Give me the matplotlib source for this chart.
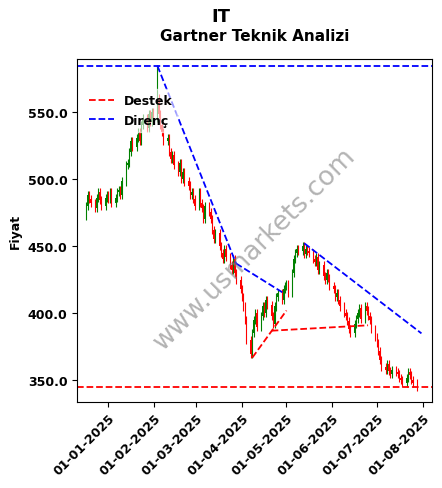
import matplotlib
matplotlib.use("Agg")
import matplotlib.pyplot as plt
import matplotlib.dates as mdates
import numpy as np
import pandas as pd

closes = [480, 488, 485, 482, 478, 486, 490, 484, 480, 486, 488,
          485, 490, 482, 486, 490, 492, 488, 498, 510, 512, 520, 528, 524, 530, 535, 528, 540, 545, 538, 548, 542, 550, 545,
          560, 548, 540, 535, 528, 530, 520, 515, 518, 510, 505, 512, 500, 505, 498, 495, 488, 490, 485, 480,
          490, 482, 478, 470, 480, 475, 470, 462, 455, 460, 450, 445, 440, 448, 442, 436, 432, 440, 430, 425, 418,
          412, 405, 395, 380, 370, 385, 395, 400, 390, 398, 405, 400, 410, 406, 398, 392, 405, 412, 415, 410, 418, 420,
          422, 415, 430, 440, 445, 448, 446, 450, 444, 448, 446, 445, 440, 438, 442, 432, 436, 428, 425, 430, 426, 420,
          418, 412, 415, 410, 405, 400, 398, 394, 388, 385, 392, 396, 400, 404, 396, 405, 402, 398, 395, 388, 382,
          378, 372, 365, 360, 358, 362, 357, 355, 358, 356, 355, 352, 350, 348, 352, 356, 354, 350, 348, 345]
dates = pd.bdate_range("2024-12-17", periods=len(closes))
opens = [closes[0] - 8] + closes[:-1]
peak_high = 585

resist_level = 584
support_level = 345
resist_lines = [(("2025-02-03", 584), ("2025-03-28", 437)),
                (("2025-03-28", 437), ("2025-04-29", 415)),
                (("2025-05-13", 452), ("2025-07-31", 385))]
support_lines = [(("2025-04-08", 367), ("2025-05-01", 402)),
                 (("2025-04-21", 387), ("2025-06-25", 391))]

fig, ax = plt.subplots(figsize=(4.42, 4.89), dpi=100)
x = mdates.date2num(dates)
for i, (o, c) in enumerate(zip(opens, closes)):
    col = "green" if c > o else "red"
    hi = max(o, c) + 3
    if dates[i] == pd.Timestamp("2025-02-03"):
        hi = peak_high
    ax.vlines(x[i], min(o, c) - 3, hi, color=col, lw=0.8)
    ax.bar(x[i], abs(c - o) or 0.5, bottom=min(o, c), width=0.6, color=col)

ax.axhline(resist_level, color="blue", ls="--", lw=1.3, label="Direnç")
ax.axhline(support_level, color="red", ls="--", lw=1.3, label="Destek")
for (d0, y0), (d1, y1) in resist_lines:
    ax.plot(pd.to_datetime([d0, d1]), [y0, y1], "b--", lw=1.3)
for (d0, y0), (d1, y1) in support_lines:
    ax.plot(pd.to_datetime([d0, d1]), [y0, y1], "r--", lw=1.3)

h, l = ax.get_legend_handles_labels()
leg = ax.legend([h[1], h[0]], [l[1], l[0]], loc="upper left", bbox_to_anchor=(0.0, 0.93),
                prop={"weight": "bold", "size": 9}, frameon=True, framealpha=0.6, edgecolor="white")
leg.set_zorder(5)

ax.set_ylim(334, 589)
ax.set_xlim(pd.Timestamp("2024-12-11"), pd.Timestamp("2025-08-07"))
ax.xaxis.set_major_locator(mdates.MonthLocator())
ax.xaxis.set_major_formatter(mdates.DateFormatter("%d-%m-%Y"))
ax.yaxis.set_major_formatter(matplotlib.ticker.FormatStrFormatter("%.1f"))
ax.set_yticks([350, 400, 450, 500, 550])
plt.setp(ax.get_xticklabels(), rotation=45, ha="right", rotation_mode="anchor", fontweight="bold", fontsize=9)
plt.setp(ax.get_yticklabels(), fontweight="bold", fontsize=9)
ax.set_ylabel("Fiyat", fontweight="bold", fontsize=9)
ax.set_title("Gartner Teknik Analizi", fontweight="bold", fontsize=11, pad=14)
fig.suptitle("IT", fontweight="bold", fontsize=13, y=0.983)
ax.text(0.5, 0.45, "www.usmarkets.com", transform=ax.transAxes, fontsize=19, color="gray",
        alpha=0.6, rotation=45, ha="center", va="center")
fig.subplots_adjust(left=0.175, right=0.977, top=0.877, bottom=0.176)
fig.savefig("out.png", dpi=100)
